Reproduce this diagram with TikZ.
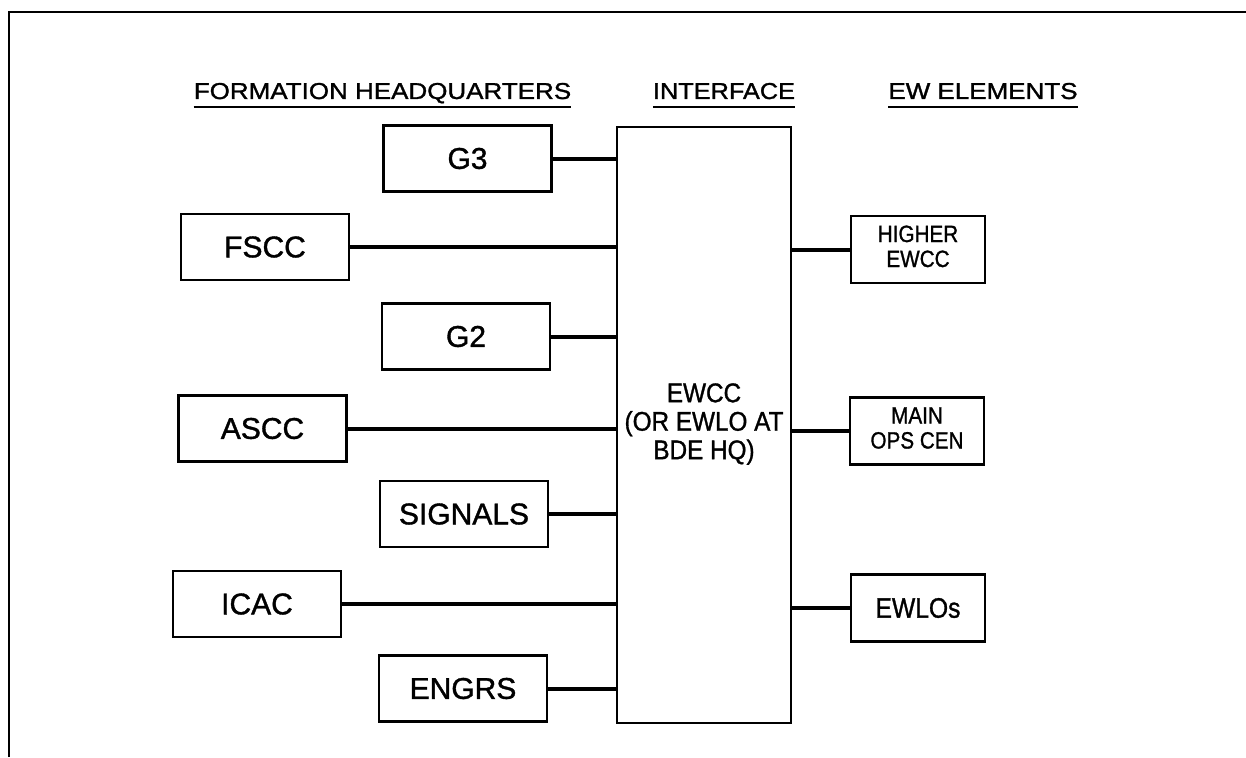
\documentclass[tikz,border=0pt]{standalone}
\usepackage{fontspec}
\setmainfont{Liberation Sans}[FakeBold=1.2]
\usepackage{graphicx}
\tikzset{
  x=1pt, y=-1pt,
  unit/.style={draw, line width=2.6pt, minimum width=168pt, minimum height=66pt, inner sep=0pt,
    font=\fontsize{30}{32}\selectfont},
  rbox/.style={draw, line width=2.6pt, minimum width=134pt, minimum height=67pt, inner sep=0pt, align=center},
  bigbox/.style={draw, line width=2.6pt, minimum width=174pt, minimum height=596pt, inner sep=0pt, align=center},
  link/.style={line width=4pt},
  head/.style={anchor=base, inner sep=0pt, font=\fontsize{23}{24}\selectfont},
  uline/.style={line width=2.5pt},
  frame/.style={line width=1.3pt}
}
\begin{document}
\begin{tikzpicture}
\useasboundingbox (0,0) rectangle (1246,757);
% frame
\coordinate (fbl) at (9,757);
\coordinate (ftl) at (9,12);
\coordinate (ftr) at (1246,12);
\draw[frame] (fbl) -- (ftl) -- (ftr);

% headers
\node[head] (hq) at (382.5,99) {\scalebox{1.13}[1]{FORMATION HEADQUARTERS}};
\node[head] (itf) at (724,99) {\scalebox{1.1}[1]{INTERFACE}};
\node[head] (ewe) at (983,99) {\scalebox{1.13}[1]{EW ELEMENTS}};
\draw[uline] ([yshift=-8pt]hq.base west) -- ([yshift=-8pt]hq.base east);
\draw[uline] ([yshift=-8pt]itf.base west) -- ([yshift=-8pt]itf.base east);
\draw[uline] ([yshift=-8pt]ewe.base west) -- ([yshift=-8pt]ewe.base east);

% central box
\node[bigbox] (ewcc) at (704,425) {\fontsize{27}{28.5}\selectfont\scalebox{0.9}[1]{\begin{tabular}{@{}c@{}}EWCC\\(OR EWLO AT\\BDE HQ)\end{tabular}}};

% left boxes
\node[unit] (g3) at (467.5,158.5) {G3};
\node[unit] (fscc) at (265,247) {FSCC};
\node[unit] (g2) at (466,336.5) {G2};
\node[unit] (ascc) at (262.5,428.5) {ASCC};
\node[unit] (sig) at (464,514) {SIGNALS};
\node[unit] (icac) at (257,604) {ICAC};
\node[unit] (eng) at (463,688.5) {ENGRS};

% right boxes
\node[rbox] (hi) at (918,249.5) {\fontsize{23.5}{25}\selectfont\scalebox{0.88}[1]{\begin{tabular}{@{}c@{}}HIGHER\\EWCC\end{tabular}}};
\node[rbox] (main) at (917,431) {\fontsize{23.5}{25}\selectfont\scalebox{0.88}[1]{\begin{tabular}{@{}c@{}}MAIN\\OPS CEN\end{tabular}}};
\node[rbox] (ewlo) at (918,608) {\fontsize{28}{30}\selectfont\scalebox{0.88}[1]{EWLOs}};

% connectors
\foreach \n in {g3,fscc,g2,ascc,sig,icac,eng}
  \draw[link] (\n.east) -- (\n.east -| ewcc.west);
\foreach \n in {hi,main,ewlo}
  \draw[link] (\n.west -| ewcc.east) -- (\n.west);
\end{tikzpicture}
\end{document}
